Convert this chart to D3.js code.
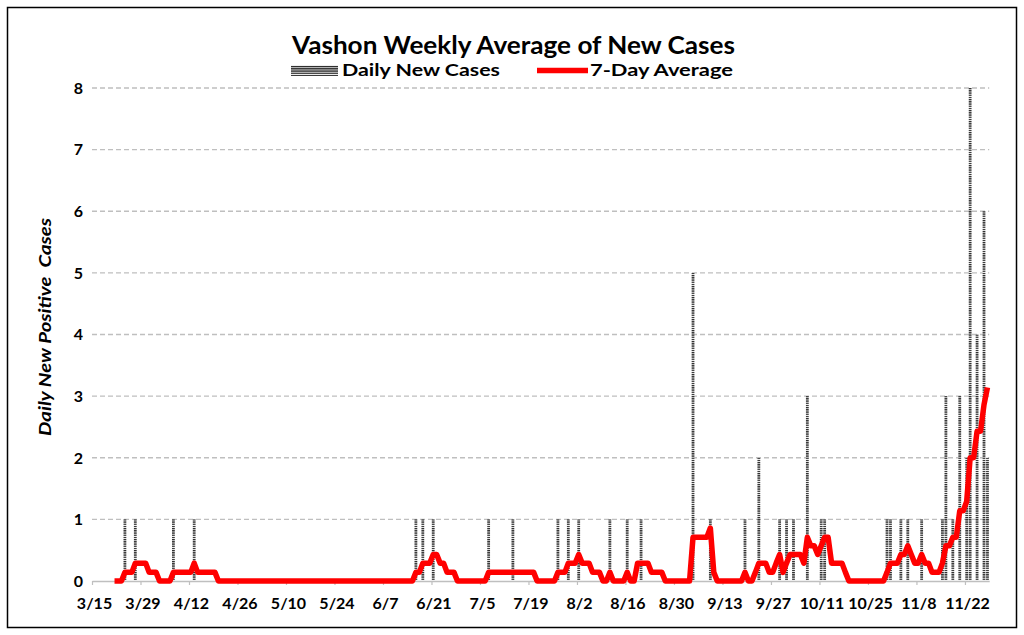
<!DOCTYPE html>
<html><head><meta charset="utf-8">
<script src="https://cdn.jsdelivr.net/npm/d3@7"></script>
<style>body{margin:0;background:#fff}svg{display:block}</style>
</head><body>
<svg id="chart" width="1024" height="635"></svg>
<script>
// ---------- data ----------
const chartTitle = "Vashon Weekly Average of New Cases";
const seriesNames = ["Daily New Cases", "7-Day Average"];
const yAxisTitle = "Daily New Positive  Cases";
const xTickLabels = ["3/15","3/29","4/12","4/26","5/10","5/24","6/7","6/21","7/5","7/19","8/2","8/16","8/30","9/13","9/27","10/11","10/25","11/8","11/22"];
const yTickValues = [0,1,2,3,4,5,6,7,8];
const axisRange = ["3/15","11/29"];

// daily new cases (days not listed have no bar)
const caseDates  = ["3/24","3/27","4/7","4/13","6/16","6/18","6/21","7/7","7/14","7/27","7/30","8/2","8/11","8/16","8/20","9/4","9/9","9/19","9/23","9/29","10/1","10/3","10/7","10/11","10/12","10/30","10/31","11/3","11/5","11/9","11/15","11/16","11/18","11/20","11/22","11/23","11/25","11/27","11/28"];
const caseCounts = [1,1,1,1,1,1,1,1,1,1,1,1,1,1,1,5,1,1,2,1,1,1,3,1,1,1,1,1,1,1,1,3,1,3,2,8,4,6,2];

// 7-day average, one value per day starting at avgStart
const avgStart = "3/21";
const avgValues = [
  // 3/21 - 3/31
  0,0,0,.14,.14,.14,.29,.29,.29,.29,.14,
  // April
  .14,.14,0,0,0,0,.14,.14,.14,.14,.14,.14,.29,.14,.14,.14,.14,.14,.14,0,0,0,0,0,0,0,0,0,0,0,
  // May
  0,0,0,0,0,0,0,0,0,0,0,0,0,0,0,0,0,0,0,0,0,0,0,0,0,0,0,0,0,0,0,
  // June
  0,0,0,0,0,0,0,0,0,0,0,0,0,0,0,.14,.14,.29,.29,.29,.43,.43,.29,.29,.14,.14,.14,0,0,0,
  // July
  0,0,0,0,0,0,.14,.14,.14,.14,.14,.14,.14,.14,.14,.14,.14,.14,.14,.14,0,0,0,0,0,0,.14,.14,.14,.29,.29,
  // August
  .29,.43,.29,.29,.29,.14,.14,.14,0,0,.14,0,0,0,0,.14,0,0,.29,.29,.29,.29,.14,.14,.14,.14,0,0,0,0,0,
  // September
  0,0,0,.71,.71,.71,.71,.71,.86,.14,0,0,0,0,0,0,0,0,.14,0,0,.14,.29,.29,.29,.14,.14,.29,.43,.14,
  // October
  .29,.43,.43,.43,.43,.29,.71,.57,.57,.43,.57,.71,.71,.29,.29,.29,.29,.14,0,0,0,0,0,0,0,0,0,0,0,.14,.29,
  // November 1 - 28
  .29,.29,.43,.43,.57,.43,.29,.29,.43,.29,.29,.14,.14,.14,.29,.57,.57,.71,.71,1.14,1.14,1.29,2.00,2.00,2.43,2.43,2.86,3.14
];

// ---------- helpers ----------
const parse = s => { const [m, d] = s.split("/").map(Number); return new Date(Date.UTC(2020, m - 1, d)); };
const mid = d => new Date(+d + 12 * 3600e3);

const svg = d3.select("#chart");
const FONT = "Lato, 'Open Sans', 'Liberation Sans', sans-serif";

const M = { left: 92, right: 989.2, top: 88, bottom: 581 };
const x = d3.scaleUtc().domain(axisRange.map(parse)).range([M.left, M.right]);
const y = d3.scaleLinear().domain([0, 8]).range([M.bottom, M.top]);

// pattern for bars
const defs = svg.append("defs");
const pat = defs.append("pattern").attr("id", "hstripe")
  .attr("patternUnits", "userSpaceOnUse").attr("width", 4).attr("height", 2.2);
pat.append("rect").attr("width", 4).attr("height", 2.2).attr("fill", "#fff");
pat.append("rect").attr("width", 4).attr("height", 1.3).attr("fill", "#262626");

// outer frame
svg.append("rect").attr("x", 7.5).attr("y", 7.5).attr("width", 1009).attr("height", 620)
  .attr("fill", "none").attr("stroke", "#000").attr("stroke-width", 1.5);

// gridlines
svg.append("g").selectAll("line").data(yTickValues.filter(v => v > 0)).join("line")
  .attr("x1", M.left).attr("x2", M.right)
  .attr("y1", d => y(d)).attr("y2", d => y(d))
  .attr("stroke", "#bfbfbf").attr("stroke-width", 1.4).attr("stroke-dasharray", "5,3");

// y tick labels
svg.append("g").selectAll("text").data(yTickValues).join("text")
  .attr("x", 83).attr("y", d => y(d)).attr("dy", "0.36em")
  .attr("text-anchor", "end").attr("font-family", FONT).attr("font-weight", "bold")
  .attr("font-size", 16).text(d => d);

// x axis
const xTickDates = xTickLabels.map(parse);
const xAxis = svg.append("g").attr("transform", `translate(0,${M.bottom})`)
  .call(d3.axisBottom(x).tickValues(xTickDates).tickFormat((d, i) => xTickLabels[i]).tickSize(4).tickSizeOuter(0));
xAxis.select(".domain").attr("stroke", "#bfbfbf").attr("stroke-width", 1.4);
xAxis.selectAll(".tick line").attr("stroke", "#bfbfbf").attr("stroke-width", 1.2);
xAxis.selectAll(".tick text").attr("y", 28).attr("dy", 0).attr("dx", 2)
  .attr("font-family", FONT).attr("font-weight", "bold").attr("font-size", 16).attr("fill", "#000");

// bars
const bars = caseDates.map((d, i) => ({ date: parse(d), value: caseCounts[i] }));
svg.append("g").selectAll("rect").data(bars).join("rect")
  .attr("x", d => x(mid(d.date)) - 1.4).attr("width", 2.8)
  .attr("y", d => y(d.value)).attr("height", d => y(0) - y(d.value))
  .attr("fill", "url(#hstripe)");

// 7-day average line
const avg = avgValues.map((v, i) => ({ date: d3.utcDay.offset(parse(avgStart), i), value: v }));
svg.append("path").datum(avg)
  .attr("d", d3.line().x(d => x(mid(d.date))).y(d => y(d.value)))
  .attr("fill", "none").attr("stroke", "#ff0000").attr("stroke-width", 5.5)
  .attr("stroke-linejoin", "round").attr("stroke-linecap", "butt");

// title
svg.append("text").attr("x", 292).attr("y", 53.5)
  .attr("font-family", FONT).attr("font-weight", "bold").attr("font-size", 25)
  .attr("textLength", 443).attr("lengthAdjust", "spacingAndGlyphs").text(chartTitle);

// legend
const lg = svg.append("g");
lg.append("rect").attr("x", 291).attr("y", 65.5).attr("width", 47).attr("height", 10.5)
  .attr("fill", "url(#hstripe)");
lg.append("text").attr("x", 342).attr("y", 75.5)
  .attr("font-family", FONT).attr("font-weight", "bold").attr("font-size", 17)
  .attr("textLength", 158).attr("lengthAdjust", "spacingAndGlyphs").text(seriesNames[0]);
lg.append("line").attr("x1", 537).attr("x2", 588).attr("y1", 70.5).attr("y2", 70.5)
  .attr("stroke", "#ff0000").attr("stroke-width", 5.5);
lg.append("text").attr("x", 590).attr("y", 75.5)
  .attr("font-family", FONT).attr("font-weight", "bold").attr("font-size", 17)
  .attr("textLength", 143).attr("lengthAdjust", "spacingAndGlyphs").text(seriesNames[1]);

// y axis title
svg.append("text").attr("transform", "translate(51,327) rotate(-90)")
  .attr("text-anchor", "middle").attr("font-family", FONT).attr("font-weight", "bold")
  .attr("font-style", "italic").attr("font-size", 17).style("white-space", "pre")
  .attr("textLength", 218).attr("lengthAdjust", "spacingAndGlyphs").text(yAxisTitle);
</script>
</body></html>
